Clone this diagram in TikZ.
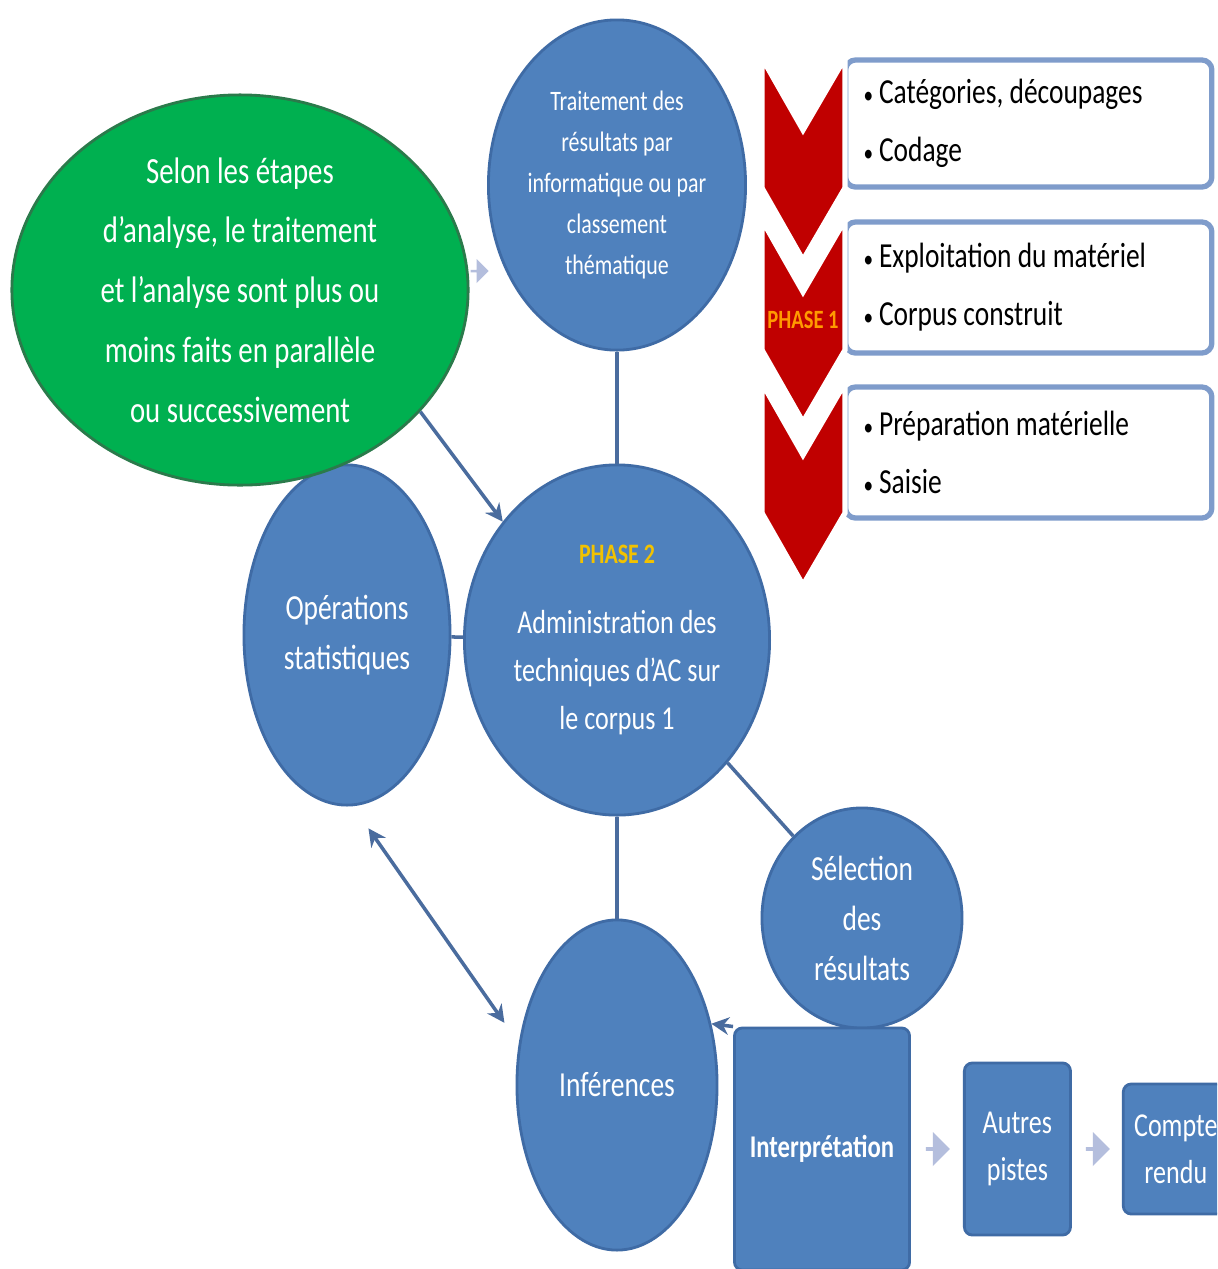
\documentclass[tikz,border=0pt]{standalone}
\usepackage{fontspec}
\setmainfont{Carlito}[FakeStretch=0.78]
\usetikzlibrary{shapes.geometric,shapes.arrows,arrows.meta,positioning,calc}
\definecolor{circblue}{HTML}{4F81BD}
\definecolor{circline}{HTML}{3F6BA5}
\definecolor{leafgreen}{HTML}{00B050}
\definecolor{darkgreen}{HTML}{2B7A4B}
\definecolor{chevred}{HTML}{C00000}
\definecolor{boxline}{HTML}{7F9CCB}
\definecolor{linkblue}{HTML}{4A6C9E}
\definecolor{lilac}{HTML}{B4BEDD}
\definecolor{phaseone}{HTML}{FF9A00}
\definecolor{phasetwo}{HTML}{F2C200}
\newcommand{\puce}{{\fontsize{7}{7}\selectfont\textbullet}\,}

\begin{document}
\begin{tikzpicture}[x=0.01cm,y=-0.01cm,
  bubble/.style={ellipse,draw=circline,line width=0.8pt,fill=circblue,text=white,align=center,inner sep=0pt,font=\fontsize{10}{14.2}\selectfont},
  greenblob/.style={ellipse,draw=darkgreen,line width=0.8pt,fill=leafgreen,text=white,align=center,inner sep=0pt,font=\fontsize{10.5}{17}\selectfont},
  tile/.style={draw=circline,line width=0.8pt,fill=circblue,text=white,align=center,rounded corners=0.08cm,inner sep=0pt,font=\fontsize{9.5}{13.4}\selectfont},
  listbox/.style={draw=boxline,line width=1.5pt,fill=white,rounded corners=0.1cm,align=flush left,text width=3.3cm,inner xsep=0.18cm,minimum height=1.3cm,font=\fontsize{10}{16.5}\selectfont},
  chevron/.style={fill=chevred,draw=white,line width=1.5pt,line join=miter},
  flowtip/.style={single arrow,fill=lilac,draw=none,inner sep=0pt,minimum height=0.24cm,minimum width=0.34cm,single arrow head extend=0.06cm},
  link/.style={draw=linkblue,line width=1pt},
  node distance=0.5cm
]
\fill[white] (0,0) rectangle (1217,1269);
\useasboundingbox (0,0) rectangle (1217,1269);
\clip (0,0) rectangle (1217,1269);

% cercles
\node[bubble,minimum width=2.06cm,minimum height=3.4cm] (operations) at (347,635) {Opérations\\statistiques};
\node[greenblob,minimum width=4.56cm,minimum height=3.9cm] (etapes) at (240,290) {Selon les étapes\\d'analyse, le traitement\\et l'analyse sont plus ou\\moins faits en parallèle\\ou successivement};
\node[bubble,minimum width=2.57cm,minimum height=3.3cm,font=\fontsize{8}{11.7}\selectfont] (traitement) at (617,185) {Traitement des\\résultats par\\informatique ou par\\classement\\thématique};
\node[bubble,minimum width=3.05cm,minimum height=3.5cm,font=\fontsize{9.5}{13.7}\selectfont] (phase2) at (617,640) {{\color{phasetwo}\bfseries\fontsize{8}{10}\selectfont PHASE 2}\\[6pt]Administration des\\techniques d'AC sur\\le corpus 1};
\node[bubble,minimum width=2.0cm,minimum height=2.2cm] (selection) at (862,918) {Sélection\\des\\résultats};
\node[bubble,minimum width=2.0cm,minimum height=3.3cm] (inferences) at (617,1085) {Inférences};

% suite
\node[tile,minimum width=1.75cm,minimum height=2.42cm,font=\bfseries\fontsize{9}{12}\selectfont] (interp) at (822,1149) {Interprétation};
\node[tile,right=0.52cm of interp,minimum width=1.06cm,minimum height=1.72cm] (autres) {Autres\\pistes};
\node[tile,right=of autres,minimum width=1.05cm,minimum height=1.3cm] (compte) {Compte\\rendu};
\node[flowtip,minimum height=0.18cm,minimum width=0.24cm] (tipA) at (479,271) {};
\node[flowtip] (tipB) at ($(interp.east)!0.5!(autres.west)$) {};
\node[flowtip] (tipC) at ($(autres.east)!0.5!(compte.west)$) {};

\draw[link] (traitement) -- (phase2);
\draw[link] (phase2) -- (inferences);
\draw[link] (operations) -- (phase2);
\draw[link] (phase2.-48) -- (selection.130);
\draw[link,-{Stealth[length=5pt,width=5pt]}] (etapes.-34) -- (phase2.134);
\draw[link,{Stealth[length=5pt,width=5pt]}-{Stealth[length=5pt,width=5pt]},shorten <=0.27cm,shorten >=0.25cm] (operations.-88) -- (inferences.157);
\draw[link,-{Stealth[length=5pt,width=5pt]}] (interp.north west) -- (inferences.33);

% phase 1
\node[listbox,anchor=west,minimum height=1.27cm] (catbox) at (843,123.5) {\puce Catégories, découpages\\\puce Codage};
\node[listbox,anchor=west,minimum height=1.31cm] (exploitbox) at (843,287.5) {\puce Exploitation du matériel\\\puce Corpus construit};
\node[listbox,anchor=west,minimum height=1.31cm] (saisiebox) at (843,452.5) {\puce Préparation matérielle\\\puce Saisie};
\foreach \t in {58,220,383}
  \filldraw[chevron] (762,\t) -- (803,\t+72) -- (845,\t) -- (845,\t+130) -- (803,\t+202) -- (762,\t+130) -- cycle;
\node[text=phaseone,font=\bfseries\fontsize{7.5}{9}\selectfont] (phase1) at (803,320) {PHASE 1};
\end{tikzpicture}
\end{document}
